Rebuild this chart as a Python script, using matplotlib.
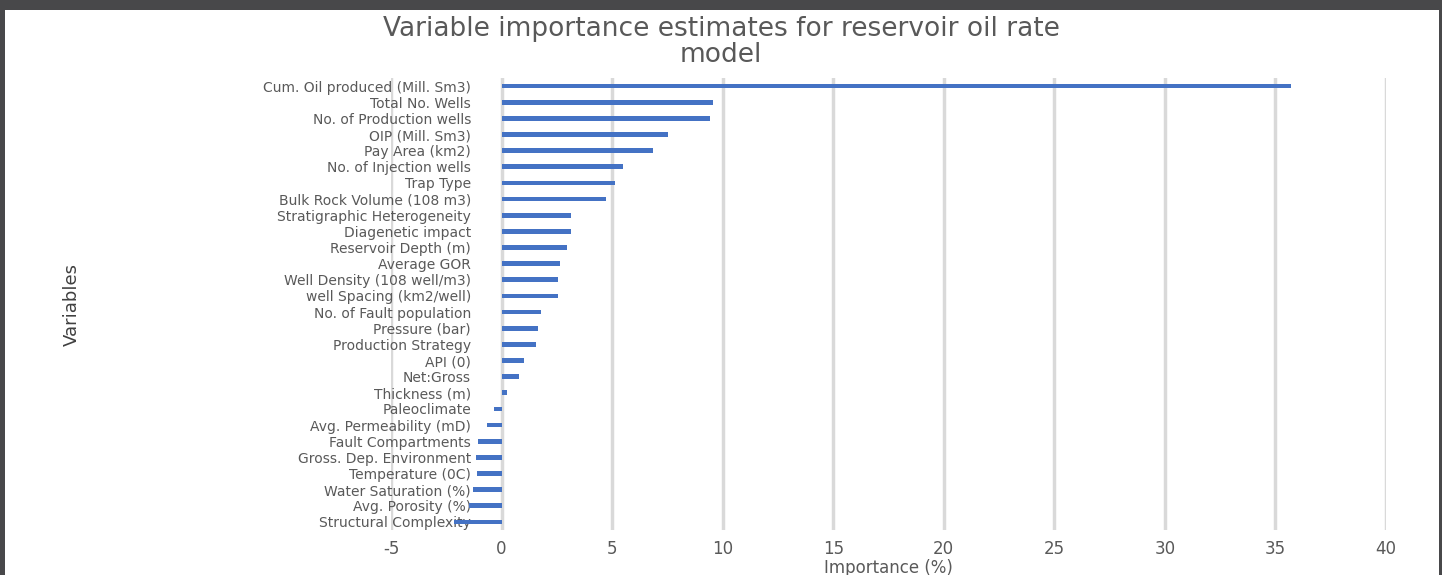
import matplotlib.pyplot as plt
from matplotlib.patches import Rectangle

plt.rcParams['axes.unicode_minus'] = False

# data
variables = ['Cum. Oil produced (Mill. Sm3)', 'Total No. Wells', 'No. of Production wells',
             'OIP (Mill. Sm3)', 'Pay Area (km2)', 'No. of Injection wells', 'Trap Type',
             'Bulk Rock Volume (108 m3)', 'Stratigraphic Heterogeneity', 'Diagenetic impact',
             'Reservoir Depth (m)', 'Average GOR', 'Well Density (108 well/m3)',
             'well Spacing (km2/well)', 'No. of Fault population', 'Pressure (bar)',
             'Production Strategy', 'API (0)', 'Net:Gross', 'Thickness (m)', 'Paleoclimate',
             'Avg. Permeability (mD)', 'Fault Compartments', 'Gross. Dep. Environment',
             'Temperature (0C)', 'Water Saturation (%)', 'Avg. Porosity (%)',
             'Structural Complexity']
importance = [35.7, 9.58, 9.42, 7.55, 6.85, 5.51, 5.12, 4.74, 3.15, 3.15, 2.94, 2.63,
              2.55, 2.55, 1.78, 1.65, 1.56, 1.01, 0.78, 0.23, -0.33, -0.68, -1.06, -1.15,
              -1.13, -1.29, -1.47, -2.15]
xticks = [-5, 0, 5, 10, 15, 20, 25, 30, 35, 40]

grey = '#595959'
fig = plt.figure(figsize=(14.42, 5.75), dpi=100)
fig.patch.set_facecolor('#48484a')
fig.add_artist(Rectangle((5 / 1442, 0), 1434 / 1442, 565 / 575,
                         transform=fig.transFigure, facecolor='white', edgecolor='none', zorder=0))

ax = fig.add_axes([391 / 1442, 45 / 575, 995 / 1442, 452 / 575])
ax.set_facecolor('none')
pos = list(range(len(variables)))
ax.barh(pos, importance, height=0.3, color='#4472c4', zorder=3)
ax.set_ylim(len(variables) - 0.5, -0.5)
ax.set_xlim(-5, 40)
ax.set_xticks(xticks)
ax.set_yticks(pos)
ax.set_yticklabels(variables, fontsize=12)
ax.grid(axis='x', color='#d9d9d9', linewidth=2.5, zorder=0)
ax.spines['left'].set_position(('data', 0))
for s in ax.spines.values():
    s.set_visible(False)
ax.tick_params(axis='y', length=0, pad=22, labelcolor=grey)
ax.tick_params(axis='x', length=0, pad=7, labelsize=12, labelcolor=grey)
ax.set_xlabel('Importance (%)', fontsize=12, color=grey, labelpad=1)

fig.text(72 / 1442, 1 - 305 / 575, 'Variables', rotation=90, ha='center', va='center',
         fontsize=13, color='#404040', family=['Liberation Sans Narrow', 'DejaVu Sans'])
fig.text(0.5, 1 - 42 / 575, 'Variable importance estimates for reservoir oil rate\nmodel',
         ha='center', va='center', fontsize=19, color=grey, linespacing=0.95)

fig.savefig('out.png', dpi=100, facecolor=fig.get_facecolor())
